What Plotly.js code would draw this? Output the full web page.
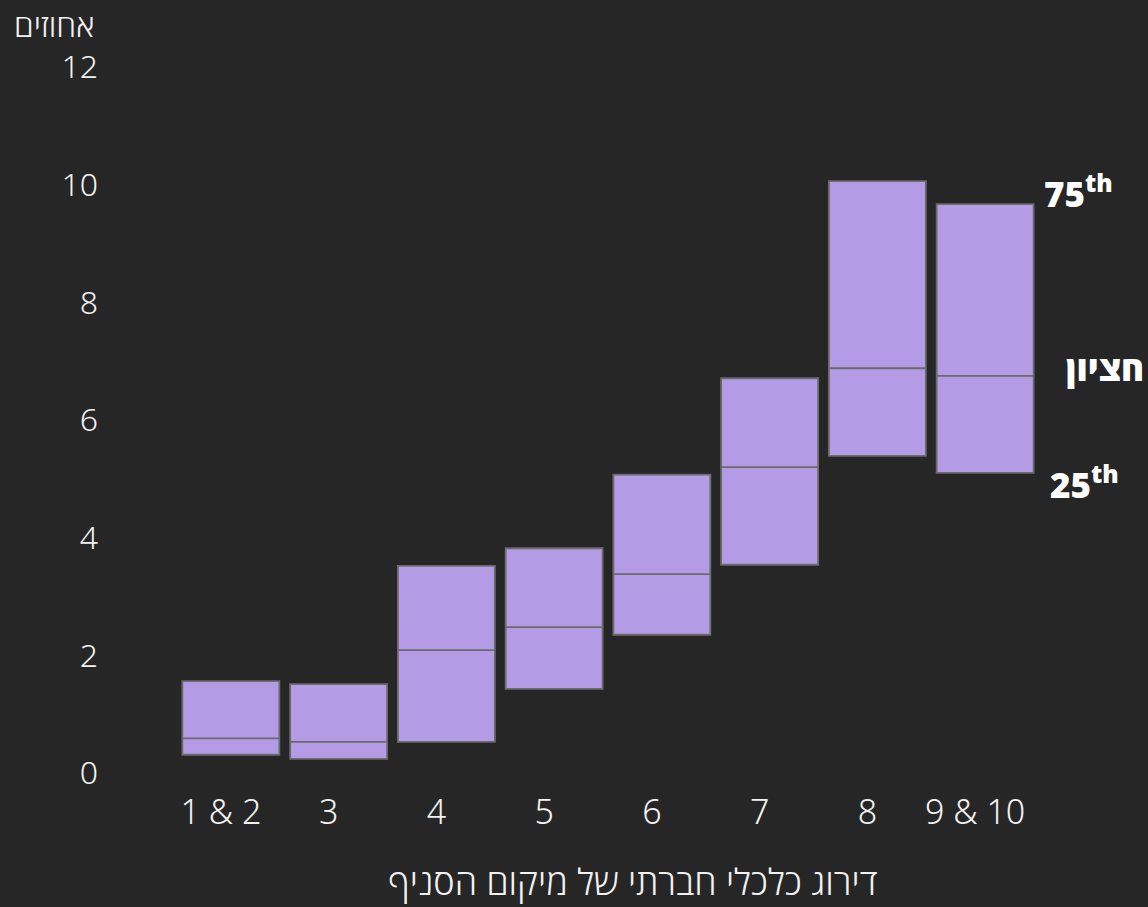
<!DOCTYPE html>
<html>
<head>
<meta charset="utf-8">
<script src="https://cdn.plot.ly/plotly-3.0.1.min.js"></script>
<style>
  html, body { margin: 0; padding: 0; background: #262626; }
  #chart { width: 1148px; height: 907px; }
</style>
</head>
<body>
<div id="chart"></div>
<script>
// Socio-economic ranking of branch location
const categories = ["1 & 2", "3", "4", "5", "6", "7", "8", "9 & 10"];
const q1Values     = [0.31, 0.24, 0.53, 1.43, 2.35, 3.54, 5.39, 5.10];
const medianValues = [0.59, 0.53, 2.09, 2.48, 3.38, 5.20, 6.88, 6.75];
const q3Values     = [1.56, 1.51, 3.52, 3.82, 5.07, 6.71, 10.06, 9.67];
const yTickValues  = [0, 2, 4, 6, 8, 10, 12];

const xTitle = "דירוג כלכלי חברתי של מיקום הסניף";
const yTitle = "אחוזים";
const labelQ3 = "75<sup>th</sup>";
const labelMedian = "חציון";
const labelQ1 = "25<sup>th</sup>";

const fontFamily = "'Noto Sans', 'Open Sans', 'DejaVu Sans', sans-serif";

const trace = {
  type: "box",
  x: categories,
  q1: q1Values,
  median: medianValues,
  q3: q3Values,
  lowerfence: q1Values,
  upperfence: q3Values,
  width: 0.9,
  whiskerwidth: 0,
  fillcolor: "#b39ce5",
  line: { color: "#6b6b6b", width: 1.8 },
  boxpoints: false,
  hoverinfo: "skip",
  showlegend: false
};

const layout = {
  width: 1148,
  height: 907,
  paper_bgcolor: "#262626",
  plot_bgcolor: "#262626",
  margin: { l: 177, r: 109, t: 67, b: 134 },
  font: { family: fontFamily, color: "#f2f2f2", size: 30, weight: 300 },
  xaxis: {
    type: "category",
    range: [-0.5, 7.5],
    showgrid: false, zeroline: false, showline: false,
    ticks: "", ticklabelstandoff: 16, ticklabelshift: -10,
    tickfont: { size: 34, color: "#f2f2f2", family: fontFamily, weight: 300 },
    fixedrange: true
  },
  yaxis: {
    range: [0, 12],
    tickvals: yTickValues,
    ticktext: yTickValues.map(String),
    showgrid: false, zeroline: false, showline: false,
    ticks: "", ticklabelstandoff: 78,
    tickfont: { size: 32, color: "#f2f2f2", family: fontFamily, weight: 300 },
    fixedrange: true
  },
  annotations: [
    { text: xTitle, xref: "paper", yref: "paper", x: 0.529, y: -0.153,
      xanchor: "center", yanchor: "middle", showarrow: false,
      font: { size: 36, color: "#f2f2f2", family: fontFamily, weight: 300 } },
    { text: yTitle, xref: "paper", yref: "paper", x: -0.191, y: 1.060,
      xanchor: "left", yanchor: "middle", showarrow: false,
      font: { size: 32, color: "#f2f2f2", family: fontFamily, weight: 300 } },
    { text: labelQ3, xref: "paper", yref: "paper", x: 1.003, y: 0.823,
      xanchor: "left", yanchor: "middle", showarrow: false,
      font: { size: 35, color: "#ffffff", family: fontFamily, weight: 900 } },
    { text: labelMedian, xref: "paper", yref: "paper", x: 1.124, y: 0.574,
      xanchor: "right", yanchor: "middle", showarrow: false,
      font: { size: 35, color: "#ffffff", family: fontFamily, weight: 900 } },
    { text: labelQ1, xref: "paper", yref: "paper", x: 1.011, y: 0.412,
      xanchor: "left", yanchor: "middle", showarrow: false,
      font: { size: 35, color: "#ffffff", family: fontFamily, weight: 900 } }
  ]
};

Plotly.newPlot("chart", [trace], layout, { displayModeBar: false, staticPlot: true });
</script>
</body>
</html>
